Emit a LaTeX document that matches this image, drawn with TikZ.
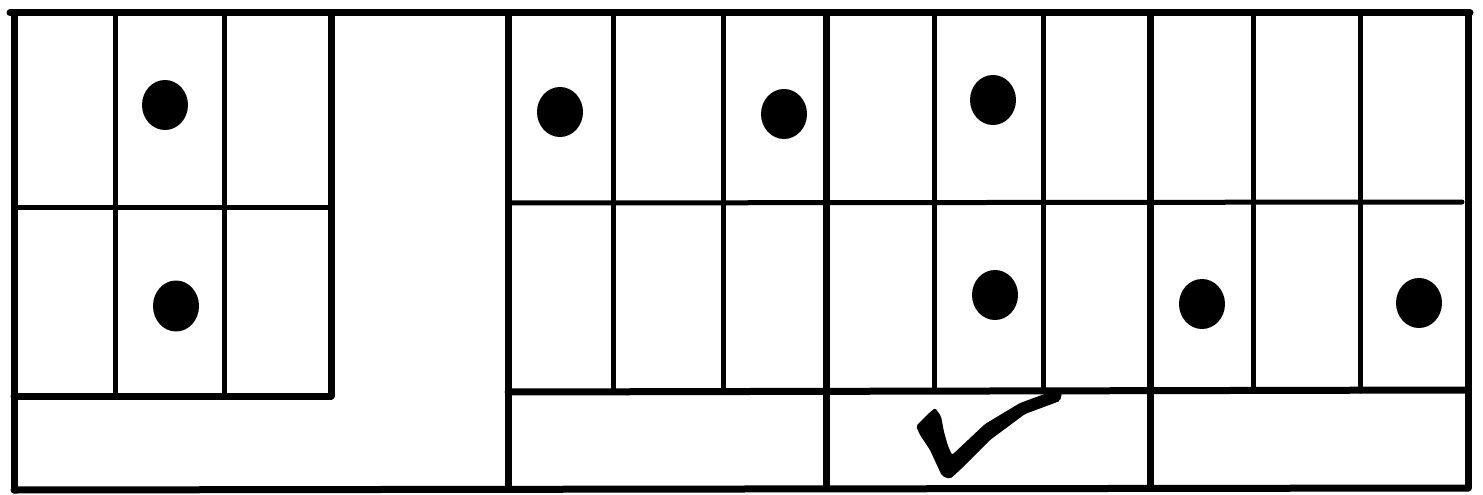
\documentclass[tikz,border=0pt]{standalone}
\begin{document}
\begin{tikzpicture}[x=1pt,y=-1pt,
  major/.style={line width=7pt,line cap=round,line join=round},
  minor/.style={line width=5pt,line cap=round},
  dot/.style={fill=black,draw=none}]
\useasboundingbox[fill=white] (0,0) rectangle (1483,495);
% outer frame
\draw[major] (10,13) -- (1470,13);
\draw[major] (14,13) -- (14,490);
\draw[major] (14,490) -- (1468,488);
\draw[major] (1468,13) -- (1468,488);
% left block
\draw[minor] (115,13) -- (115,396);
\draw[minor] (224,13) -- (224,396);
\draw[major] (331,13) -- (331,396);
\draw[minor] (14,207) -- (331,207);
\draw[major] (14,396) -- (331,396);
% right block
\draw[major] (508,13) -- (508,489);
\draw[minor] (508,203) -- (1462,202);
\draw[major] (508,392) -- (1468,390);
\foreach \xx in {613,723,934,1043,1253,1360}{\draw[minor] (\xx,13) -- (\xx,391);}
\draw[major] (826,13) -- (826,488);
\draw[major] (1150,13) -- (1150,488);
% dots
\fill[dot] (165,105) ellipse [x radius=23, y radius=25];
\fill[dot] (176,306) ellipse [x radius=23, y radius=25.5];
\fill[dot] (560,112) ellipse [x radius=23, y radius=25];
\fill[dot] (784,114) ellipse [x radius=23, y radius=25];
\fill[dot] (993,100) ellipse [x radius=23, y radius=25];
\fill[dot] (995,295) ellipse [x radius=23, y radius=25];
\fill[dot] (1202,304) ellipse [x radius=23, y radius=25];
\fill[dot] (1419,303) ellipse [x radius=23, y radius=25];
% check mark
\fill[black,rounded corners=2pt] (916,426) -- (928,414) -- (935,408) -- (941,416) -- (944,432)
  -- (948,446) -- (952,455) -- (985,424) -- (1020,403) -- (1050,392) -- (1062,393)
  -- (1060,401) -- (1025,414) -- (990,440) -- (960,470) -- (950,479) -- (942,476)
  -- (930,450) -- (920,435) -- cycle;
\end{tikzpicture}
\end{document}
